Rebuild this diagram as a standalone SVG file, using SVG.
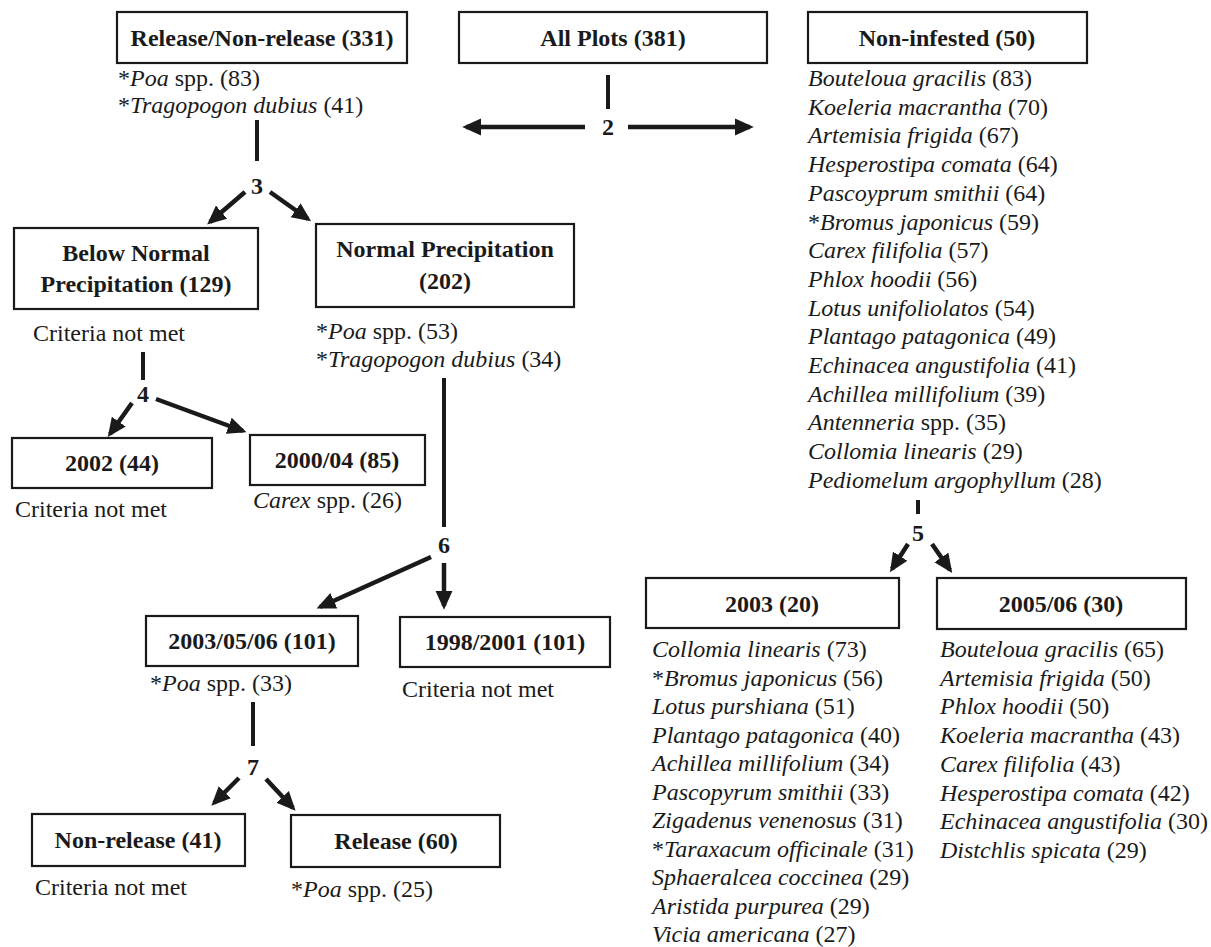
<svg xmlns="http://www.w3.org/2000/svg" width="1211" height="947" viewBox="0 0 1211 947">
<style>
.box{fill:#fff;stroke:#1a1a1a;stroke-width:2.2}
.t{font-family:"Liberation Serif","Times New Roman",serif;font-size:24px;font-weight:bold;text-anchor:middle;fill:#1a1a1a}
.s{font-family:"Liberation Serif","Times New Roman",serif;font-size:24px;fill:#1a1a1a}
.i{font-style:italic}
.lab{font-family:"Liberation Serif","Times New Roman",serif;font-size:24px;font-weight:bold;text-anchor:middle;fill:#1a1a1a}
.ln{stroke:#1a1a1a;stroke-width:4;fill:none}
.ar{stroke:#1a1a1a;stroke-width:4.5;fill:none;marker-end:url(#ah)}
</style>
<defs>
<marker id="ah" viewBox="0 0 10 10" refX="8" refY="5" markerWidth="19" markerHeight="19" markerUnits="userSpaceOnUse" orient="auto">
<path d="M0,0.5 L10,5 L0,9.5 z" fill="#1a1a1a"/>
</marker>
</defs>
<rect width="1211" height="947" fill="#fff"/>

<g id="connectors">
<line class="ln" x1="257" y1="120" x2="257" y2="161"/>
<line class="ar" x1="245" y1="192" x2="210" y2="222"/>
<line class="ar" x1="270" y1="192" x2="308" y2="219"/>
<line class="ln" x1="608" y1="75" x2="608" y2="109"/>
<line class="ar" x1="585" y1="127" x2="466" y2="127"/>
<line class="ar" x1="628" y1="127" x2="750" y2="127"/>
<line class="ln" x1="143" y1="352" x2="143" y2="380"/>
<line class="ar" x1="132" y1="403" x2="110" y2="434"/>
<line class="ar" x1="156" y1="399" x2="243" y2="431"/>
<line class="ln" x1="444" y1="378" x2="444" y2="527"/>
<line class="ar" x1="431" y1="557" x2="320" y2="607"/>
<line class="ar" x1="444" y1="563" x2="444" y2="606"/>
<line class="ln" x1="253" y1="702" x2="253" y2="746"/>
<line class="ar" x1="239" y1="778" x2="214" y2="803"/>
<line class="ar" x1="266" y1="779" x2="293" y2="808"/>
<line class="ln" x1="918" y1="500" x2="918" y2="514"/>
<line class="ar" x1="908" y1="544" x2="892" y2="569"/>
<line class="ar" x1="932" y1="544" x2="950" y2="570"/>
<text class="lab" x="257" y="194">3</text>
<text class="lab" x="608" y="135">2</text>
<text class="lab" x="143" y="402">4</text>
<text class="lab" x="444" y="553">6</text>
<text class="lab" x="253" y="775">7</text>
<text class="lab" x="918" y="541">5</text>
</g>

<g id="node-release-nonrelease">
<rect class="box" x="117" y="12" width="290" height="51"/>
<text class="t" x="262" y="46">Release/Non-release (331)</text>
<text class="s" x="118" y="86">*<tspan class="i">Poa</tspan> spp. (83)</text>
<text class="s" x="118" y="113">*<tspan class="i">Tragopogon dubius</tspan> (41)</text>
</g>

<g id="node-all-plots">
<rect class="box" x="459" y="12" width="308" height="51"/>
<text class="t" x="613" y="46">All Plots (381)</text>
</g>

<g id="node-non-infested">
<rect class="box" x="808" y="12" width="279" height="51"/>
<text class="t" x="947" y="46">Non-infested (50)</text>
<text class="s" x="808" y="86"><tspan class="i">Bouteloua gracilis</tspan>  (83)</text>
<text class="s" x="808" y="114.7"><tspan class="i">Koeleria macrantha</tspan> (70)</text>
<text class="s" x="808" y="143.4"><tspan class="i">Artemisia frigida</tspan> (67)</text>
<text class="s" x="808" y="172.1"><tspan class="i">Hesperostipa comata</tspan> (64)</text>
<text class="s" x="808" y="200.8"><tspan class="i">Pascoyprum smithii</tspan> (64)</text>
<text class="s" x="808" y="229.5">*<tspan class="i">Bromus japonicus</tspan> (59)</text>
<text class="s" x="808" y="258.2"><tspan class="i">Carex filifolia</tspan> (57)</text>
<text class="s" x="808" y="286.9"><tspan class="i">Phlox hoodii</tspan> (56)</text>
<text class="s" x="808" y="315.6"><tspan class="i">Lotus unifoliolatos</tspan> (54)</text>
<text class="s" x="808" y="344.3"><tspan class="i">Plantago patagonica</tspan> (49)</text>
<text class="s" x="808" y="373"><tspan class="i">Echinacea angustifolia</tspan> (41)</text>
<text class="s" x="808" y="401.7"><tspan class="i">Achillea millifolium</tspan> (39)</text>
<text class="s" x="808" y="430.4"><tspan class="i">Antenneria</tspan> spp. (35)</text>
<text class="s" x="808" y="459.1"><tspan class="i">Collomia linearis</tspan> (29)</text>
<text class="s" x="808" y="487.8"><tspan class="i">Pediomelum argophyllum</tspan> (28)</text>
</g>

<g id="node-below-normal">
<rect class="box" x="14" y="228" width="244" height="81"/>
<text class="t" x="136" y="261">Below Normal</text>
<text class="t" x="136" y="292">Precipitation (129)</text>
<text class="s" x="33" y="341">Criteria not met</text>
</g>

<g id="node-normal">
<rect class="box" x="316" y="224" width="258" height="83"/>
<text class="t" x="445" y="257">Normal Precipitation</text>
<text class="t" x="445" y="289">(202)</text>
<text class="s" x="316" y="339">*<tspan class="i">Poa</tspan> spp. (53)</text>
<text class="s" x="316" y="367">*<tspan class="i">Tragopogon dubius</tspan> (34)</text>
</g>

<g id="node-2002">
<rect class="box" x="12" y="438" width="200" height="50"/>
<text class="t" x="112" y="471">2002 (44)</text>
<text class="s" x="15" y="517">Criteria not met</text>
</g>

<g id="node-2000-04">
<rect class="box" x="250" y="435" width="175" height="50"/>
<text class="t" x="337" y="468">2000/04 (85)</text>
<text class="s" x="253" y="508"><tspan class="i">Carex</tspan> spp. (26)</text>
</g>

<g id="node-2003-05-06">
<rect class="box" x="146" y="616" width="212" height="50"/>
<text class="t" x="252" y="649">2003/05/06 (101)</text>
<text class="s" x="150" y="691">*<tspan class="i">Poa</tspan> spp. (33)</text>
</g>

<g id="node-1998-2001">
<rect class="box" x="400" y="617" width="210" height="50"/>
<text class="t" x="505" y="650">1998/2001 (101)</text>
<text class="s" x="402" y="697">Criteria not met</text>
</g>

<g id="node-non-release">
<rect class="box" x="32" y="814" width="213" height="52"/>
<text class="t" x="138" y="848">Non-release (41)</text>
<text class="s" x="35" y="895">Criteria not met</text>
</g>

<g id="node-release">
<rect class="box" x="291" y="815" width="209" height="52"/>
<text class="t" x="396" y="849">Release (60)</text>
<text class="s" x="291" y="897">*<tspan class="i">Poa</tspan> spp. (25)</text>
</g>

<g id="node-2003">
<rect class="box" x="646" y="578" width="253" height="50"/>
<text class="t" x="772" y="612">2003 (20)</text>
<text class="s" x="652" y="657"><tspan class="i">Collomia linearis</tspan>  (73)</text>
<text class="s" x="652" y="685.5">*<tspan class="i">Bromus japonicus</tspan> (56)</text>
<text class="s" x="652" y="714"><tspan class="i">Lotus purshiana</tspan> (51)</text>
<text class="s" x="652" y="742.5"><tspan class="i">Plantago patagonica</tspan> (40)</text>
<text class="s" x="652" y="771"><tspan class="i">Achillea millifolium</tspan> (34)</text>
<text class="s" x="652" y="799.5"><tspan class="i">Pascopyrum smithii</tspan> (33)</text>
<text class="s" x="652" y="828"><tspan class="i">Zigadenus venenosus</tspan> (31)</text>
<text class="s" x="652" y="856.5">*<tspan class="i">Taraxacum officinale</tspan> (31)</text>
<text class="s" x="652" y="885"><tspan class="i">Sphaeralcea coccinea</tspan> (29)</text>
<text class="s" x="652" y="913.5"><tspan class="i">Aristida purpurea</tspan> (29)</text>
<text class="s" x="652" y="942"><tspan class="i">Vicia americana</tspan> (27)</text>
</g>

<g id="node-2005-06">
<rect class="box" x="937" y="578" width="249" height="51"/>
<text class="t" x="1061" y="612">2005/06 (30)</text>
<text class="s" x="940" y="657"><tspan class="i">Bouteloua gracilis</tspan>  (65)</text>
<text class="s" x="940" y="685.7"><tspan class="i">Artemisia frigida</tspan> (50)</text>
<text class="s" x="940" y="714.4"><tspan class="i">Phlox hoodii</tspan> (50)</text>
<text class="s" x="940" y="743.1"><tspan class="i">Koeleria macrantha</tspan> (43)</text>
<text class="s" x="940" y="771.8"><tspan class="i">Carex filifolia</tspan> (43)</text>
<text class="s" x="940" y="800.5"><tspan class="i">Hesperostipa comata</tspan> (42)</text>
<text class="s" x="940" y="829.2"><tspan class="i">Echinacea angustifolia</tspan> (30)</text>
<text class="s" x="940" y="857.9"><tspan class="i">Distchlis spicata</tspan> (29)</text>
</g>
</svg>
